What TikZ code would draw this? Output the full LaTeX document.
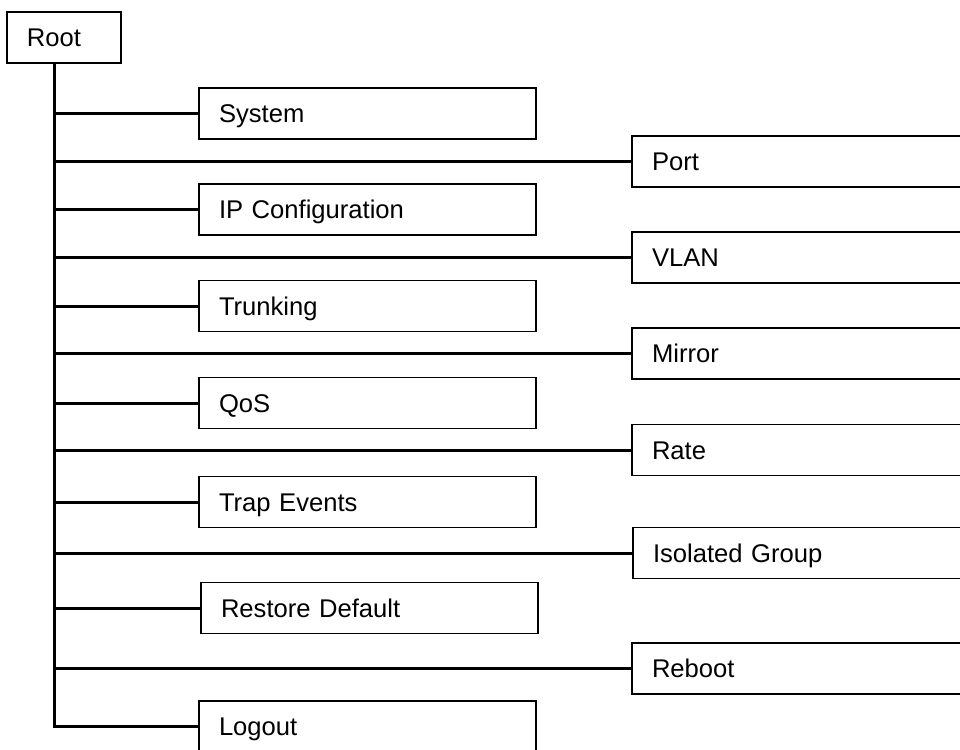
\documentclass[tikz,border=0pt]{standalone}
\usepackage{fontspec}
\setmainfont{Liberation Sans}
\begin{document}
\begin{tikzpicture}[x=1pt,y=-1pt,
  menubox/.style={draw=black, line width=1.6pt, fill=white, anchor=west,
    minimum height=51pt, inner xsep=20pt, inner ysep=0pt, outer sep=0pt,
    text height=18pt, text depth=0pt, align=left,
    font=\fontsize{25.6}{30}\selectfont},
  leftbox/.style={menubox, text width=297pt},
  rightbox/.style={menubox, text width=360pt},
  conn/.style={line width=3pt, line cap=butt}]
\useasboundingbox (0,0) rectangle (960,749);
\clip (0,0) rectangle (960,749);
\fill[white] (0,0) rectangle (960,749);
\node[menubox, text width=74pt] (root) at (7,37.5) {Root};
% left column
\node[leftbox] (sys) at (199,113.5) {System};
\node[leftbox] (ip) at (199,209.5) {IP Configuration};
\node[leftbox] (trunk) at (199,306) {Trunking};
\node[leftbox] (qos) at (199,403) {QoS};
\node[leftbox] (trap) at (199,502) {Trap Events};
\node[leftbox] (restore) at (201,608) {Restore Default};
\node[leftbox] (logout) at (199,726.5) {Logout};
% right column
\node[rightbox] (port) at (632,161.5) {Port};
\node[rightbox] (vlan) at (632,257.5) {VLAN};
\node[rightbox] (mirror) at (632,353.5) {Mirror};
\node[rightbox] (rate) at (632,450) {Rate};
\node[rightbox] (iso) at (633,553) {Isolated Group};
\node[rightbox] (reboot) at (632,668.5) {Reboot};
% trunk line
\coordinate (top) at (54,63);
\draw[conn] (top) |- (logout.west);
\foreach \n in {sys,port,ip,vlan,trunk,mirror,qos,rate,trap,iso,restore,reboot}{
  \draw[conn] (top |- \n.west) -- (\n.west);
}
\end{tikzpicture}
\end{document}
